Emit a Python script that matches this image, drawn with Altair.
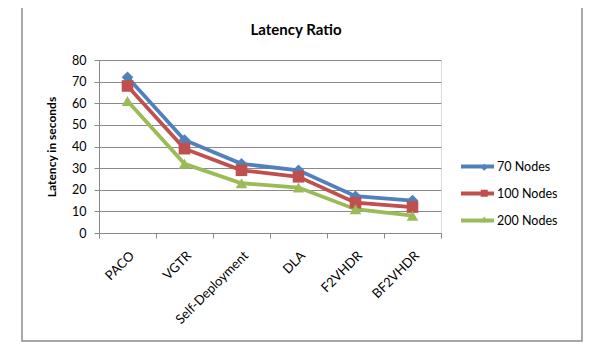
import altair as alt
import pandas as pd

categories = ["PACO", "VGTR", "Self-Deployment", "DLA", "F2VHDR", "BF2VHDR"]
series_names = ["70 Nodes", "100 Nodes", "200 Nodes"]
nodes70 = [72, 43, 32, 29, 17, 15]
nodes100 = [68, 39, 29, 26, 14, 12]
nodes200 = [61, 32, 23, 21, 11, 8]
y_ticks = [0, 10, 20, 30, 40, 50, 60, 70, 80]
colors = ["#4F81BD", "#C0504D", "#9BBB59"]
shapes = ["diamond", "square", "triangle-up"]
chart_title = "Latency Ratio"

rows = []
for name, vals in zip(series_names, [nodes70, nodes100, nodes200]):
    for c, v in zip(categories, vals):
        rows.append({"Category": c, "Series": name, "Latency": v})
df = pd.DataFrame(rows)

FONT = "Lato"
GRID = "#8a8a8a"

x_enc = alt.X(
    "Category:N", sort=categories, bandPosition=0.5,
    scale=alt.Scale(type="band", paddingInner=0, paddingOuter=0),
    axis=alt.Axis(title=None, labelAngle=-45, tickBand="extent", grid=False,
                  domainColor=GRID, tickColor=GRID, tickSize=5, labelPadding=11,
                  labelFont=FONT, labelFontSize=13, labelColor="#000"),
)
y_enc = alt.Y(
    "Latency:Q", scale=alt.Scale(domain=[0, 80], nice=False),
    axis=alt.Axis(values=y_ticks, title="Latency in seconds", grid=True, gridColor=GRID,
                  domainColor=GRID, tickColor=GRID, tickSize=5, labelPadding=8,
                  labelFont=FONT, labelFontSize=12.5, labelColor="#000",
                  titleFont=FONT, titleFontSize=12, titleFontWeight="bold",
                  titleColor="#000", titlePadding=13),
)

color_scale = alt.Scale(domain=series_names, range=colors)
shape_scale = alt.Scale(domain=series_names, range=shapes)

line_legend = alt.Legend(
    title=None, orient="none", legendX=371, legendY=99, padding=0,
    symbolType="M-3,0H3", symbolSize=121, symbolStrokeWidth=4,
    labelOffset=12, labelFont=FONT, labelFontSize=12.5, labelColor="#000",
    rowPadding=10,
)
point_legend = alt.Legend(
    title=None, orient="none", legendX=379, legendY=101, padding=0,
    symbolSize=50, labelExpr="''", labelFont=FONT, labelFontSize=12.5,
    rowPadding=13,
)

lines = alt.Chart(df).mark_line(strokeWidth=3.8).encode(
    x=x_enc, y=y_enc,
    color=alt.Color("Series:N", sort=series_names, scale=color_scale, legend=line_legend),
)
points = alt.Chart(df).mark_point(filled=True, opacity=1, size=135).encode(
    x=x_enc, y=y_enc,
    color=alt.Color("Series:N", sort=series_names, scale=color_scale, legend=point_legend),
    shape=alt.Shape("Series:N", sort=series_names, scale=shape_scale, legend=point_legend),
)

border = alt.Chart(pd.DataFrame({"a": [0]})).mark_rect(
    fill=None, stroke="#8c8c8c", strokeWidth=1.5, clip=False
).encode(
    x=alt.value(-77), x2=alt.value(483), y=alt.value(-53), y2=alt.value(281)
)

title = alt.Chart(pd.DataFrame({"t": [chart_title]})).mark_text(
    font=FONT, fontSize=15, fontWeight="bold", color="#000",
    align="center", baseline="middle"
).encode(text="t:N", x=alt.value(197), y=alt.value(-30))

chart = alt.layer(border, title, lines, points).resolve_legend(
    color="independent", shape="independent"
).properties(
    width=342, height=173,
    padding={"left": 91, "top": 52, "right": 160, "bottom": 110},
    autosize=alt.AutoSizeParams(type="none"),
).configure_view(stroke=None).configure(background="white")

chart.save("out.html", embed_options={"renderer": "svg", "actions": False})
